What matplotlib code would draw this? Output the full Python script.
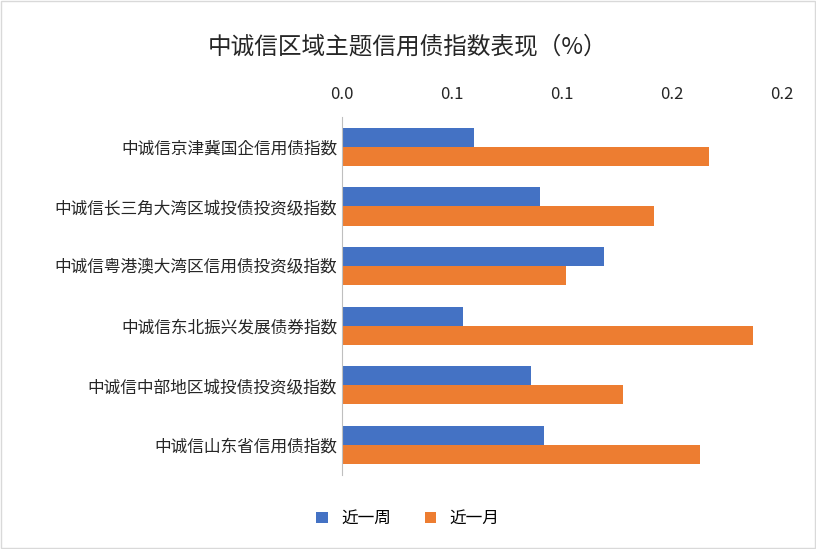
import numpy as np
import matplotlib.pyplot as plt
from matplotlib import font_manager
from matplotlib.ticker import FuncFormatter

# pick up whatever CJK font is actually registered
cjk = [f.name for f in font_manager.fontManager.ttflist if "CJK" in f.name]
if not cjk:
    for path in font_manager.findSystemFonts():
        if "CJK" in path or "cjk" in path.lower():
            font_manager.fontManager.addfont(path)
    cjk = [f.name for f in font_manager.fontManager.ttflist if "CJK" in f.name]
pref = [n for n in cjk if n.endswith("SC")] + cjk
plt.rcParams["font.family"] = "sans-serif"
plt.rcParams["font.sans-serif"] = pref[:1] + ["DejaVu Sans"]

categories = ["中诚信京津冀国企信用债指数", "中诚信长三角大湾区城投债投资级指数",
              "中诚信粤港澳大湾区信用债投资级指数", "中诚信东北振兴发展债券指数",
              "中诚信中部地区城投债投资级指数", "中诚信山东省信用债指数"]
week = [0.060, 0.090, 0.119, 0.055, 0.086, 0.092]
month = [0.167, 0.142, 0.102, 0.187, 0.128, 0.163]

fig = plt.figure(figsize=(8.16, 5.49), dpi=100)
fig.patches.append(plt.Rectangle((0.001, 0.001), 0.998, 0.998, transform=fig.transFigure,
                                 fill=False, edgecolor="#d9d9d9", linewidth=1))
ax = fig.add_axes([0.419, 0.135, 0.539, 0.652])

y = np.arange(len(categories))
h = 0.32
ax.barh(y - h / 2, week, height=h, color="#4472c4", label="近一周")
ax.barh(y + h / 2, month, height=h, color="#ed7d31", label="近一月")

ax.set_ylim(len(categories) - 0.5, -0.5)
ax.set_xlim(0, 0.2)
ax.set_xticks([0, 0.05, 0.1, 0.15, 0.2])
ax.xaxis.set_major_formatter(FuncFormatter(lambda v, p: f"{v + 1e-9:.1f}"))
ax.xaxis.tick_top()
ax.set_yticks(y)
ax.set_yticklabels(categories)
ax.tick_params(length=0, labelsize=12, colors="#262626")
ax.tick_params(axis="x", pad=10)
for s in ["top", "right", "bottom"]:
    ax.spines[s].set_visible(False)
ax.spines["left"].set_color("#bfbfbf")

fig.text(0.5, 0.915, "中诚信区域主题信用债指数表现（%）", ha="center", va="center",
         fontsize=17, color="#262626")
fig.legend(loc="center", bbox_to_anchor=(0.5, 0.055), ncol=2, frameon=False,
           fontsize=12, handlelength=0.7, handleheight=0.7, columnspacing=2)

fig.savefig("out.png", dpi=100)
